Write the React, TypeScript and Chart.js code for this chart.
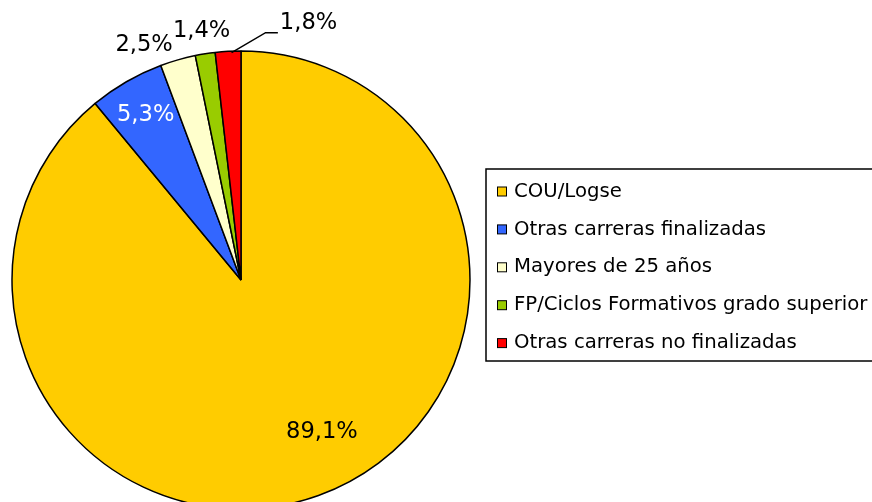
import React, { useEffect, useRef } from "react";
import { Chart, registerables } from "chart.js";

Chart.register(...registerables);

const categories = [
  "COU/Logse",
  "Otras carreras finalizadas",
  "Mayores de 25 años",
  "FP/Ciclos Formativos grado superior",
  "Otras carreras no finalizadas",
];
const values = [89.1, 5.3, 2.5, 1.4, 1.8];
const sliceColors = ["#FFCC00", "#3366FF", "#FFFFCC", "#99CC00", "#FF0000"];
const labelColors = ["#000000", "#FFFFFF", "#000000", "#000000", "#000000"];

const FONT = "'DejaVu Sans', Verdana, sans-serif";

const fmt = (v: number) => v.toFixed(1).replace(".", ",") + "%";

// label placement (radius factor, angle delta in degrees) per slice
const placement = [
  { rf: 0.752, da: -8.25 },
  { rf: 0.832, da: 0 },
  { rf: 1.11, da: -6.4 },
  { rf: 1.1, da: 0 },
  { rf: 1.0, da: 0, leader: true },
];

const labelPlugin = {
  id: "sliceLabels",
  afterDatasetsDraw(chart: any) {
    const ctx = chart.ctx;
    const meta = chart.getDatasetMeta(0);
    ctx.save();
    ctx.font = `22.6px ${FONT}`;
    ctx.textBaseline = "middle";
    meta.data.forEach((arc: any, i: number) => {
      const { x, y, startAngle, endAngle, outerRadius } = arc.getProps(
        ["x", "y", "startAngle", "endAngle", "outerRadius"],
        true
      );
      const p = placement[i];
      const mid = (startAngle + endAngle) / 2 + (p.da * Math.PI) / 180;
      const text = fmt(values[i]);
      ctx.fillStyle = labelColors[i];
      if (p.leader) {
        const ex = x + Math.cos(mid) * outerRadius + 3.5;
        const ey = y + Math.sin(mid) * outerRadius + 1.3;
        const bx = ex + 34;
        const by = ey - 20;
        const hx = bx + 12.3;
        ctx.strokeStyle = "#000";
        ctx.lineWidth = 1.5;
        ctx.beginPath();
        ctx.moveTo(ex, ey);
        ctx.lineTo(bx, by);
        ctx.lineTo(hx, by);
        ctx.stroke();
        ctx.textAlign = "left";
        ctx.fillText(text, hx + 2, by - 10);
      } else {
        const lx = x + Math.cos(mid) * outerRadius * p.rf;
        const ly = y + Math.sin(mid) * outerRadius * p.rf;
        ctx.textAlign = "center";
        ctx.fillText(text, lx, ly);
      }
    });
    ctx.restore();
  },
};

const legendPlugin = {
  id: "boxLegend",
  afterDraw(chart: any) {
    const ctx = chart.ctx;
    ctx.save();
    ctx.strokeStyle = "#000";
    ctx.lineWidth = 1.5;
    ctx.strokeRect(486, 169, 500, 192);
    ctx.font = `19.7px ${FONT}`;
    ctx.textBaseline = "middle";
    ctx.textAlign = "left";
    categories.forEach((c, i) => {
      const cy = 191.5 + i * 37.9;
      ctx.fillStyle = sliceColors[i];
      ctx.fillRect(497.5, cy - 4.5, 9, 9);
      ctx.lineWidth = 1;
      ctx.strokeRect(497.5, cy - 4.5, 9, 9);
      ctx.fillStyle = "#000";
      ctx.fillText(c, 514, cy);
    });
    ctx.restore();
  },
};

export default function App() {
  const ref = useRef<HTMLCanvasElement | null>(null);
  useEffect(() => {
    document.body.style.margin = "0";
    if (!ref.current) return;
    const chart = new Chart(ref.current, {
      type: "pie",
      data: {
        labels: categories,
        datasets: [
          {
            data: values,
            backgroundColor: sliceColors,
            borderColor: "#000000",
            borderWidth: 1.5,
          },
        ],
      },
      options: {
        responsive: false,
        animation: false,
        radius: 229,
        layout: { padding: { left: 12, top: 58, right: 402, bottom: 0 } },
        plugins: {
          legend: { display: false },
          tooltip: { enabled: false },
        },
      },
      plugins: [labelPlugin, legendPlugin],
    });
    return () => chart.destroy();
  }, []);
  return (
    <div style={{ position: "absolute", left: 0, top: 0, width: 872, height: 502, background: "#fff" }}>
      <canvas ref={ref} width={872} height={502} />
    </div>
  );
}
